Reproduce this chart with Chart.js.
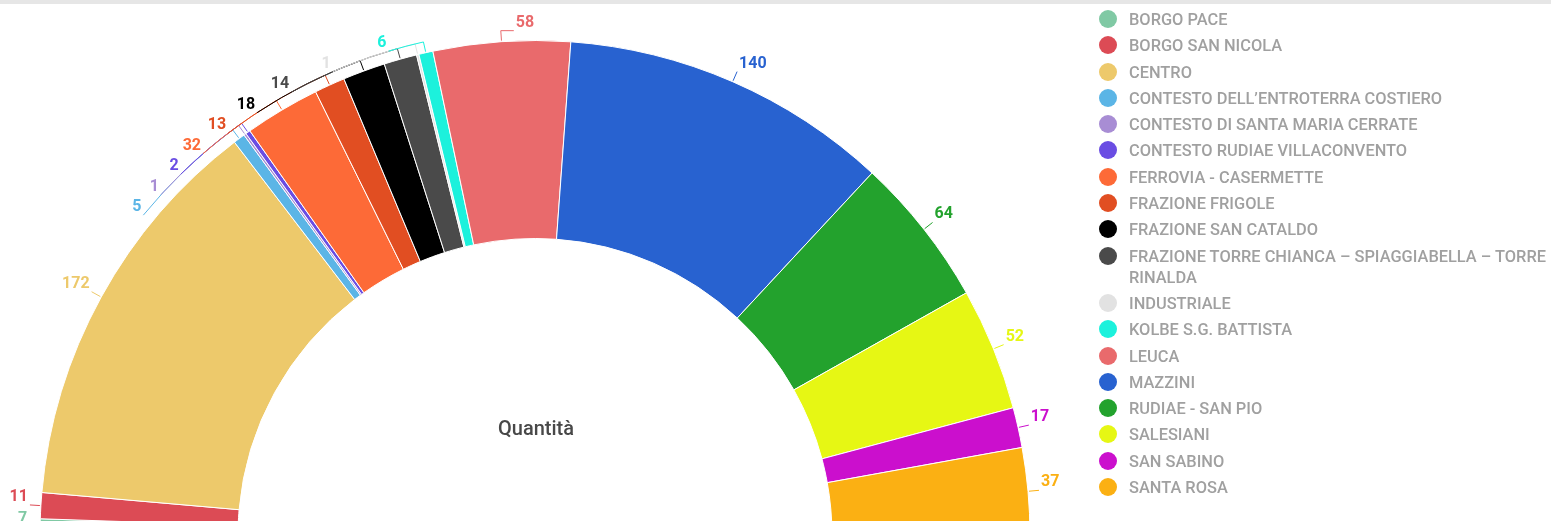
<!DOCTYPE html>
<html>
<head>
<meta charset="utf-8">
<script src="https://cdn.jsdelivr.net/npm/chart.js@4.4.0/dist/chart.umd.min.js"></script>
<style>
  html, body { margin: 0; padding: 0; overflow: hidden; background: #fff; }
  #page { position: relative; width: 1551px; height: 521px; overflow: hidden; font-family: Roboto, sans-serif; }
  #topbar { position: absolute; left: 0; top: 0; width: 100%; height: 4px; background: #e6e6e6; z-index: 2; }
  #chartBox { position: absolute; left: 0; top: 0; width: 1551px; height: 560px; }
  #legend { position: absolute; left: 1099px; top: 9px; width: 460px; margin: 0; padding: 0; list-style: none; }
  #legend li { position: relative; padding-left: 30px; font-size: 16.4px; font-weight: 500; line-height: 21px; color: #a0a0a0; margin-bottom: 5.3px; }
  #legend .dot { position: absolute; left: 0; top: 1px; width: 18px; height: 18px; border-radius: 50%; }
</style>
</head>
<body>
<div id="page">
  <div id="topbar"></div>
  <div id="chartBox"><canvas id="quantityChart"></canvas></div>
  <ul id="legend"></ul>
</div>
<script>
const categories = [
  'BORGO PACE', 'BORGO SAN NICOLA', 'CENTRO', 'CONTESTO DELL’ENTROTERRA COSTIERO',
  'CONTESTO DI SANTA MARIA CERRATE', 'CONTESTO RUDIAE VILLACONVENTO', 'FERROVIA - CASERMETTE',
  'FRAZIONE FRIGOLE', 'FRAZIONE SAN CATALDO', 'FRAZIONE TORRE CHIANCA – SPIAGGIABELLA – TORRE RINALDA',
  'INDUSTRIALE', 'KOLBE S.G. BATTISTA', 'LEUCA', 'MAZZINI', 'RUDIAE - SAN PIO',
  'SALESIANI', 'SAN SABINO', 'SANTA ROSA'
];
const quantities = [7, 11, 172, 5, 1, 2, 32, 13, 18, 14, 1, 6, 58, 140, 64, 52, 17, 37];
const sliceColors = [
  '#80c9a4', '#dc4b55', '#edc96b', '#5bb5e6', '#a88dd4', '#6a4de3', '#fd6a37',
  '#e14e22', '#000000', '#4a4a4a', '#e2e2e2', '#1cf1dc', '#e96a6c', '#2862d0',
  '#23a22d', '#e6f714', '#cb0fcd', '#fbb013'
];
const centerTitle = 'Quantità';

// legend
const legendEl = document.getElementById('legend');
categories.forEach((name, i) => {
  const li = document.createElement('li');
  const dot = document.createElement('span');
  dot.className = 'dot';
  dot.style.background = sliceColors[i];
  li.appendChild(dot);
  li.appendChild(document.createTextNode(name));
  legendEl.appendChild(li);
});

// outside value labels with leader lines, stacked so they don't overlap
const sliceLabels = {
  id: 'sliceLabels',
  afterDatasetsDraw(chart) {
    const ctx = chart.ctx;
    const arcs = chart.getDatasetMeta(0).data;
    const cx = arcs[0].x, cy = arcs[0].y, R = arcs[0].outerRadius;
    const lineR = R + 11, gap = 20.5;

    const items = arcs.map((arc, i) => {
      const a = (arc.startAngle + arc.endAngle) / 2;
      return { i, a, left: Math.cos(a) < 0, ey: cy + lineR * Math.sin(a) };
    });
    [true, false].forEach(side => {
      const list = items.filter(it => it.left === side).sort((p, q) => p.ey - q.ey);
      for (let k = 1; k < list.length; k++) {
        if (list[k].ey < list[k - 1].ey + gap) list[k].ey = list[k - 1].ey + gap;
      }
    });

    ctx.save();
    ctx.lineWidth = 1;
    ctx.font = 'bold 16px Roboto';
    ctx.textBaseline = 'middle';
    items.forEach(it => {
      const color = sliceColors[it.i];
      const a = it.a;
      const dy = cy - it.ey;
      const ex = cx + (it.left ? -1 : 1) * Math.sqrt(Math.max(lineR * lineR - dy * dy, 0));
      const a2 = Math.atan2(it.ey - cy, ex - cx);
      const hookRight = Math.cos(a) > -0.15;

      ctx.strokeStyle = color;
      ctx.beginPath();
      ctx.moveTo(cx + (R + 1) * Math.cos(a), cy + (R + 1) * Math.sin(a));
      ctx.lineTo(cx + lineR * Math.cos(a), cy + lineR * Math.sin(a));
      if (Math.abs(a2 - a) > 0.002) ctx.arc(cx, cy, lineR, a, a2, a2 < a);
      let tx;
      if (it.left && hookRight) {
        ctx.lineTo(ex + 13, it.ey);
        tx = ex + 15;
      } else {
        tx = it.left ? ex - 2 : ex + 2;
      }
      ctx.stroke();

      ctx.fillStyle = color;
      ctx.textAlign = (it.left && !hookRight) ? 'right' : 'left';
      ctx.fillText(String(quantities[it.i]), tx, it.ey - 8);
    });

    ctx.fillStyle = '#484848';
    ctx.font = '500 20px Roboto';
    ctx.textAlign = 'center';
    ctx.fillText(centerTitle, cx + 1, cy - 106);
    ctx.restore();
  }
};

new Chart(document.getElementById('quantityChart'), {
  type: 'doughnut',
  data: {
    labels: categories,
    datasets: [{
      data: quantities,
      backgroundColor: sliceColors,
      borderColor: '#ffffff',
      borderWidth: 1
    }]
  },
  options: {
    responsive: true,
    maintainAspectRatio: false,
    animation: false,
    events: [],
    rotation: -90,
    circumference: 180,
    cutout: '60%',
    layout: { padding: { left: 39, right: 520, top: 40, bottom: 24 } },
    plugins: {
      legend: { display: false },
      tooltip: { enabled: false }
    }
  },
  plugins: [sliceLabels]
});
</script>
</body>
</html>
